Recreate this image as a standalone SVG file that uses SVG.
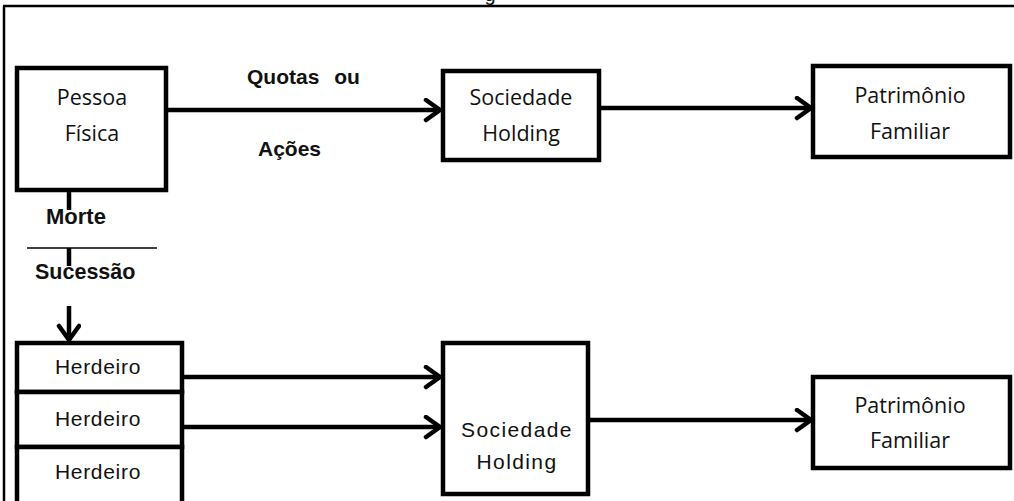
<svg xmlns="http://www.w3.org/2000/svg" width="1014" height="501" viewBox="0 0 1014 501">
<style>
.box{fill:#fff;stroke:#000;stroke-width:4.5}
.c{fill:none;stroke:#000;stroke-width:4.5}
.thin{fill:none;stroke:#000;stroke-width:1.5}
.t1{font-family:"Open Sans","Liberation Sans",sans-serif;font-size:21.5px;fill:#111;text-anchor:middle}
.t2{font-family:"Liberation Sans",Arial,sans-serif;font-size:20px;fill:#111;text-anchor:middle}
.s{font-family:"Liberation Sans",Arial,sans-serif;font-size:21px;letter-spacing:1.4px;fill:#111;text-anchor:middle}
.h{font-family:"Liberation Sans",Arial,sans-serif;font-size:21px;letter-spacing:0.7px;fill:#111;text-anchor:middle}
.b{font-family:"Liberation Sans",Arial,sans-serif;font-size:21px;font-weight:bold;fill:#111}
</style>
<defs>
<marker id="ah" markerUnits="userSpaceOnUse" markerWidth="24" markerHeight="26" refX="19" refY="12" orient="auto">
<path d="M5,2 L19,12 L5,22" fill="none" stroke="#000" stroke-width="4.5" stroke-linecap="round" stroke-linejoin="miter"/>
</marker>
</defs>
<rect width="1014" height="501" fill="#fff"/>
<g id="frame">
<path d="M3,6 H1014 M4,6 V501" class="thin" style="stroke-width:2.5"/>
<text x="490" y="0.5" class="t2">g</text>
</g>
<g id="connectors">
<path class="c" d="M166,110 H440" marker-end="url(#ah)"/>
<path class="c" d="M599,108 H811" marker-end="url(#ah)"/>
<path class="c" d="M69,190 V210"/>
<path class="thin" d="M27,248 H157"/>
<path class="c" d="M69,248 V266"/>
<path class="c" d="M69,306 V340" marker-end="url(#ah)"/>
<path class="c" d="M182,377 H440" marker-end="url(#ah)"/>
<path class="c" d="M182,427 H440" marker-end="url(#ah)"/>
<path class="c" d="M588,420 H811" marker-end="url(#ah)"/>
</g>
<g id="labels">
<text x="247" y="84" class="b" style="word-spacing:9px">Quotas ou</text>
<text x="258" y="156" class="b">Ações</text>
<text x="46" y="224" class="b" style="font-size:22px">Morte</text>
<text x="35" y="279" class="b" style="font-size:21.5px">Sucessão</text>
</g>
<g id="pessoa">
<rect x="17" y="68" width="149" height="122" class="box"/>
<text x="92" y="105" class="t1">Pessoa</text>
<text x="92" y="141" class="t1">Física</text>
</g>
<g id="holding1">
<rect x="443" y="71" width="156" height="89" class="box"/>
<text x="521" y="105" class="t1">Sociedade</text>
<text x="521" y="141" class="t1">Holding</text>
</g>
<g id="patrimonio1">
<rect x="813" y="66" width="197" height="91" class="box"/>
<text x="910" y="103" class="t1">Patrimônio</text>
<text x="910" y="139" class="t1">Familiar</text>
</g>
<g id="herdeiros">
<rect x="17" y="343" width="165" height="49" class="box"/>
<rect x="17" y="392" width="165" height="55" class="box"/>
<rect x="17" y="447" width="165" height="60" class="box"/>
<text x="98" y="374" class="h">Herdeiro</text>
<text x="98" y="426" class="h">Herdeiro</text>
<text x="98" y="479" class="h">Herdeiro</text>
</g>
<g id="holding2">
<rect x="443" y="343" width="145" height="151" class="box"/>
<text x="517" y="437" class="s">Sociedade</text>
<text x="517" y="469" class="s">Holding</text>
</g>
<g id="patrimonio2">
<rect x="813" y="377" width="197" height="91" class="box"/>
<text x="910" y="413" class="t1">Patrimônio</text>
<text x="910" y="448" class="t1">Familiar</text>
</g>
</svg>
